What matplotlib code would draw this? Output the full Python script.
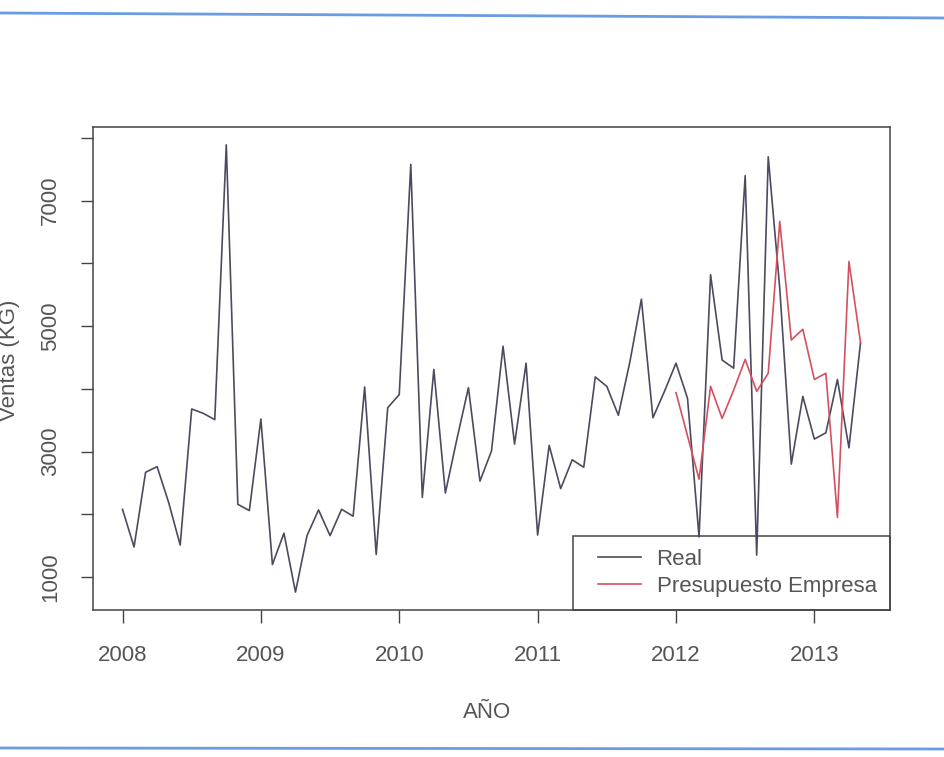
import matplotlib
matplotlib.use("Agg")
import matplotlib.pyplot as plt
from matplotlib.lines import Line2D
from matplotlib.patches import Rectangle
import numpy as np

plt.rcParams['font.family'] = ['Liberation Sans', 'DejaVu Sans']

# Ventas mensuales (KG), enero 2008 - mayo 2013
real = [
    2080, 1480, 2670, 2760, 2190, 1510, 3680, 3610, 3510, 7890, 2160, 2060,  # 2008
    3520, 1200, 1700, 760, 1660, 2070, 1660, 2080, 1970, 4030, 1360, 3700,   # 2009
    3910, 7580, 2270, 4310, 2340, 3200, 4020, 2530, 3010, 4680, 3120, 4410,  # 2010
    1670, 3100, 2410, 2870, 2750, 4190, 4040, 3580, 4430, 5430, 3540, 3960,  # 2011
    4410, 3850, 1640, 5820, 4460, 4330, 7400, 1350, 7700, 5600, 2800, 3880,  # 2012
    3200, 3300, 4150, 3060, 4730,                                            # 2013
]
# Presupuesto de la empresa, enero 2012 - mayo 2013
presupuesto = [
    3940, 3250, 2560, 4040, 3530, 3980, 4470, 3960, 4250, 6670, 4780, 4950,
    4150, 4250, 1950, 6030, 4740,
]
inicio_real = 2008.0
inicio_presupuesto = 2012.0
anios = [2008, 2009, 2010, 2011, 2012, 2013]
y_ticks = [1000, 2000, 3000, 4000, 5000, 6000, 7000, 8000]
y_labels = ['1000', '', '3000', '', '5000', '', '7000', '']

t_real = inicio_real + np.arange(len(real)) / 12
t_pres = inicio_presupuesto + np.arange(len(presupuesto)) / 12

gris = '#555555'
fig = plt.figure(figsize=(9.45, 7.57), dpi=100)
ax = fig.add_axes([93 / 945, 1 - 610 / 757, 797 / 945, 483 / 757])

ax.plot(t_real, real, color='#4b4b5f', lw=1.2, label='Real')
ax.plot(t_pres, presupuesto, color='#d4505f', lw=1.2, label='Presupuesto Empresa')

# rango de ejes con el 4% de margen, como en R
x0, x1 = t_real.min(), t_real.max()
y0, y1 = min(min(real), min(presupuesto)), max(max(real), max(presupuesto))
ax.set_xlim(x0 - 0.04 * (x1 - x0), x1 + 0.04 * (x1 - x0))
ax.set_ylim(y0 - 0.04 * (y1 - y0), y1 + 0.04 * (y1 - y0))

ax.set_xticks(anios)
ax.set_xticklabels([str(a) for a in anios])
ax.set_yticks(y_ticks)
ax.set_yticklabels(y_labels, rotation=90, va='center')
ax.tick_params(axis='both', direction='out', length=9, width=1, color='#444444',
               labelsize=16, labelcolor=gris)
ax.tick_params(axis='x', pad=16)
ax.tick_params(axis='y', pad=14)
for s in ax.spines.values():
    s.set_color('#444444')
    s.set_linewidth(1.1)

fig.text(487 / 945, 1 - 712 / 757, 'AÑO', ha='center', va='center',
         fontsize=16, color=gris)
fig.text(10 / 945, 1 - 360 / 757, 'Ventas (KG)', ha='center', va='center',
         rotation=90, fontsize=16, color=gris)

# leyenda sin marco propio; el recuadro se dibuja aparte (más ancho a la izquierda)
leg = ax.legend(loc='lower right', bbox_to_anchor=(1, 0), borderaxespad=0,
                fontsize=16, handlelength=1.95, handletextpad=0.7,
                labelspacing=0.25, borderpad=0.6, frameon=False)
for txt in leg.get_texts():
    txt.set_color(gris)
ax.add_patch(Rectangle((1 - 317 / 797, 0), 317 / 797, 74 / 483,
                       transform=ax.transAxes, fill=False,
                       edgecolor='#444444', lw=1.1, clip_on=False))

# filetes azules de la página
fig.add_artist(Line2D([0, 1], [1 - 13 / 757, 1 - 18 / 757], color='#6b9be0', lw=2))
fig.add_artist(Line2D([0, 1], [1 - 748 / 757, 1 - 749 / 757], color='#6b9be0', lw=2))

fig.savefig('out.png', dpi=100)
